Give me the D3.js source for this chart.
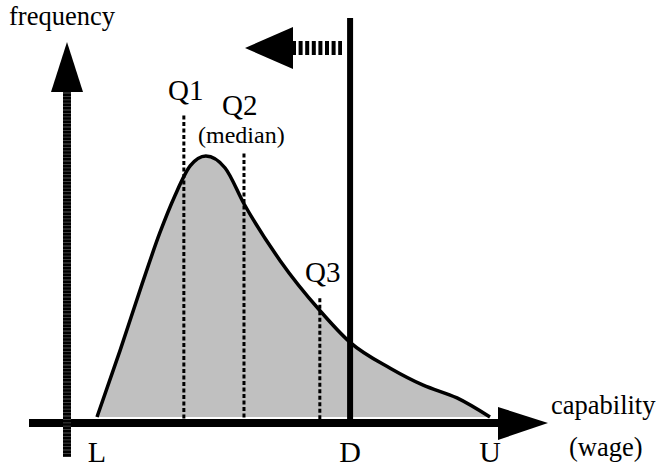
<!DOCTYPE html>
<html>
<head>
<meta charset="utf-8">
<script src="https://cdn.jsdelivr.net/npm/d3@7"></script>
<style>
    body { margin: 0; background: #fff; }
    text { font-family: "Liberation Serif", "Times New Roman", serif; fill: #000; }
</style>
</head>
<body>
<div id="chart"></div>
<script>
// capability (L = 0, U = 100) and relative frequency (peak = 100)
const capability = [0, 5.9, 11.5, 16.0, 19.8, 23.7, 27.7, 32.6, 37.4, 46.6, 56.7, 64.4, 74.6, 83.0, 91.6, 100];
const frequency  = [0, 25.6, 51.1, 70.6, 84.7, 96.2, 100, 95.4, 81.7, 59.9, 40.8, 28.6, 18.7, 12.2, 7.3, 0];

const quartileNames = ["Q1", "Q2", "Q3"];
const quartileValues = [22.1, 37.4, 56.7];
const quartileTops = [115.5, 101, 45.5];

const boundNames = ["L", "D", "U"];
const boundValues = [0, 64.4, 100];

class DensityVis {
    constructor(_parentElement) {
        this.parentElement = _parentElement;
        this.data = capability.map((c, i) => ({x: c, y: frequency[i]}));
        this.initVis();
    }

    initVis() {
        let vis = this;

        vis.width = 658;
        vis.height = 471;

        vis.svg = d3.select("#" + vis.parentElement).append("svg")
            .attr("width", vis.width)
            .attr("height", vis.height);

        vis.x = d3.scaleLinear().domain([0, 100]).range([97, 490]);
        vis.y = d3.scaleLinear().domain([0, 100]).range([417, 156]);

        vis.updateVis();
    }

    updateVis() {
        let vis = this;
        let x = vis.x, y = vis.y;
        let curve = d3.curveMonotoneX;

        // shaded distribution
        let area = d3.area()
            .x(d => x(d.x))
            .y0(y(0))
            .y1(d => y(d.y))
            .curve(curve);

        vis.svg.append("path")
            .datum(vis.data)
            .attr("d", area)
            .style("fill", "#c0c0c0");

        // quartile markers
        quartileValues.forEach(function(q, i) {
            vis.svg.append("line")
                .attr("x1", x(q)).attr("x2", x(q))
                .attr("y1", y(quartileTops[i]))
                .attr("y2", y(0) + 2)
                .style("stroke", "#000")
                .style("stroke-width", 3)
                .style("stroke-dasharray", "4,2.5");
        });

        let line = d3.line()
            .x(d => x(d.x))
            .y(d => y(d.y))
            .curve(curve);

        vis.svg.append("path")
            .datum(vis.data)
            .attr("d", line)
            .style("fill", "none")
            .style("stroke", "#000")
            .style("stroke-width", 3.5)
            .style("stroke-linejoin", "round");

        // horizontal axis
        let axisY = y(0) + 6;
        vis.svg.append("line")
            .attr("x1", 29).attr("x2", 500)
            .attr("y1", axisY).attr("y2", axisY)
            .style("stroke", "#000")
            .style("stroke-width", 8);
        vis.svg.append("path")
            .attr("d", `M498,${axisY - 16}L548,${axisY}L498,${axisY + 17}Z`)
            .style("fill", "#000");

        // vertical axis (striped shaft)
        vis.svg.append("line")
            .attr("x1", 67).attr("x2", 67)
            .attr("y1", 90).attr("y2", 457)
            .style("stroke", "#555")
            .style("stroke-width", 8);
        vis.svg.append("line")
            .attr("x1", 67).attr("x2", 67)
            .attr("y1", 90).attr("y2", 457)
            .style("stroke", "#000")
            .style("stroke-width", 8)
            .style("stroke-dasharray", "2.6,0.8");
        vis.svg.append("path")
            .attr("d", "M51,92L67,42L83,92Z")
            .style("fill", "#000");

        // D line and the leftward shift arrow
        let dx = x(boundValues[1]);
        vis.svg.append("line")
            .attr("x1", dx).attr("x2", dx)
            .attr("y1", 18).attr("y2", axisY)
            .style("stroke", "#000")
            .style("stroke-width", 6);
        vis.svg.append("line")
            .attr("x1", 292).attr("x2", 342)
            .attr("y1", 48).attr("y2", 48)
            .style("stroke", "#000")
            .style("stroke-width", 14)
            .style("stroke-dasharray", "4,2.6");
        vis.svg.append("path")
            .attr("d", "M293,27L245,48L293,69Z")
            .style("fill", "#000");

        // labels
        vis.svg.append("text").attr("x", 9).attr("y", 25)
            .style("font-size", "26.5px").text("frequency");

        vis.svg.append("text").attr("x", 168).attr("y", 100)
            .style("font-size", "29px").text(quartileNames[0]);
        vis.svg.append("text").attr("x", 222).attr("y", 115)
            .style("font-size", "29px").text(quartileNames[1]);
        vis.svg.append("text").attr("x", 198).attr("y", 143)
            .style("font-size", "24px").text("(median)");
        vis.svg.append("text").attr("x", 305).attr("y", 282)
            .style("font-size", "29px").text(quartileNames[2]);

        boundValues.forEach(function(b, i) {
            vis.svg.append("text")
                .attr("x", x(b))
                .attr("y", 462)
                .attr("text-anchor", "middle")
                .style("font-size", "30px")
                .text(boundNames[i]);
        });

        vis.svg.append("text").attr("x", 551).attr("y", 414)
            .style("font-size", "26.5px").text("capability");
        vis.svg.append("text").attr("x", 569).attr("y", 456)
            .style("font-size", "26.5px").text("(wage)");
    }
}

new DensityVis("chart");
</script>
</body>
</html>
